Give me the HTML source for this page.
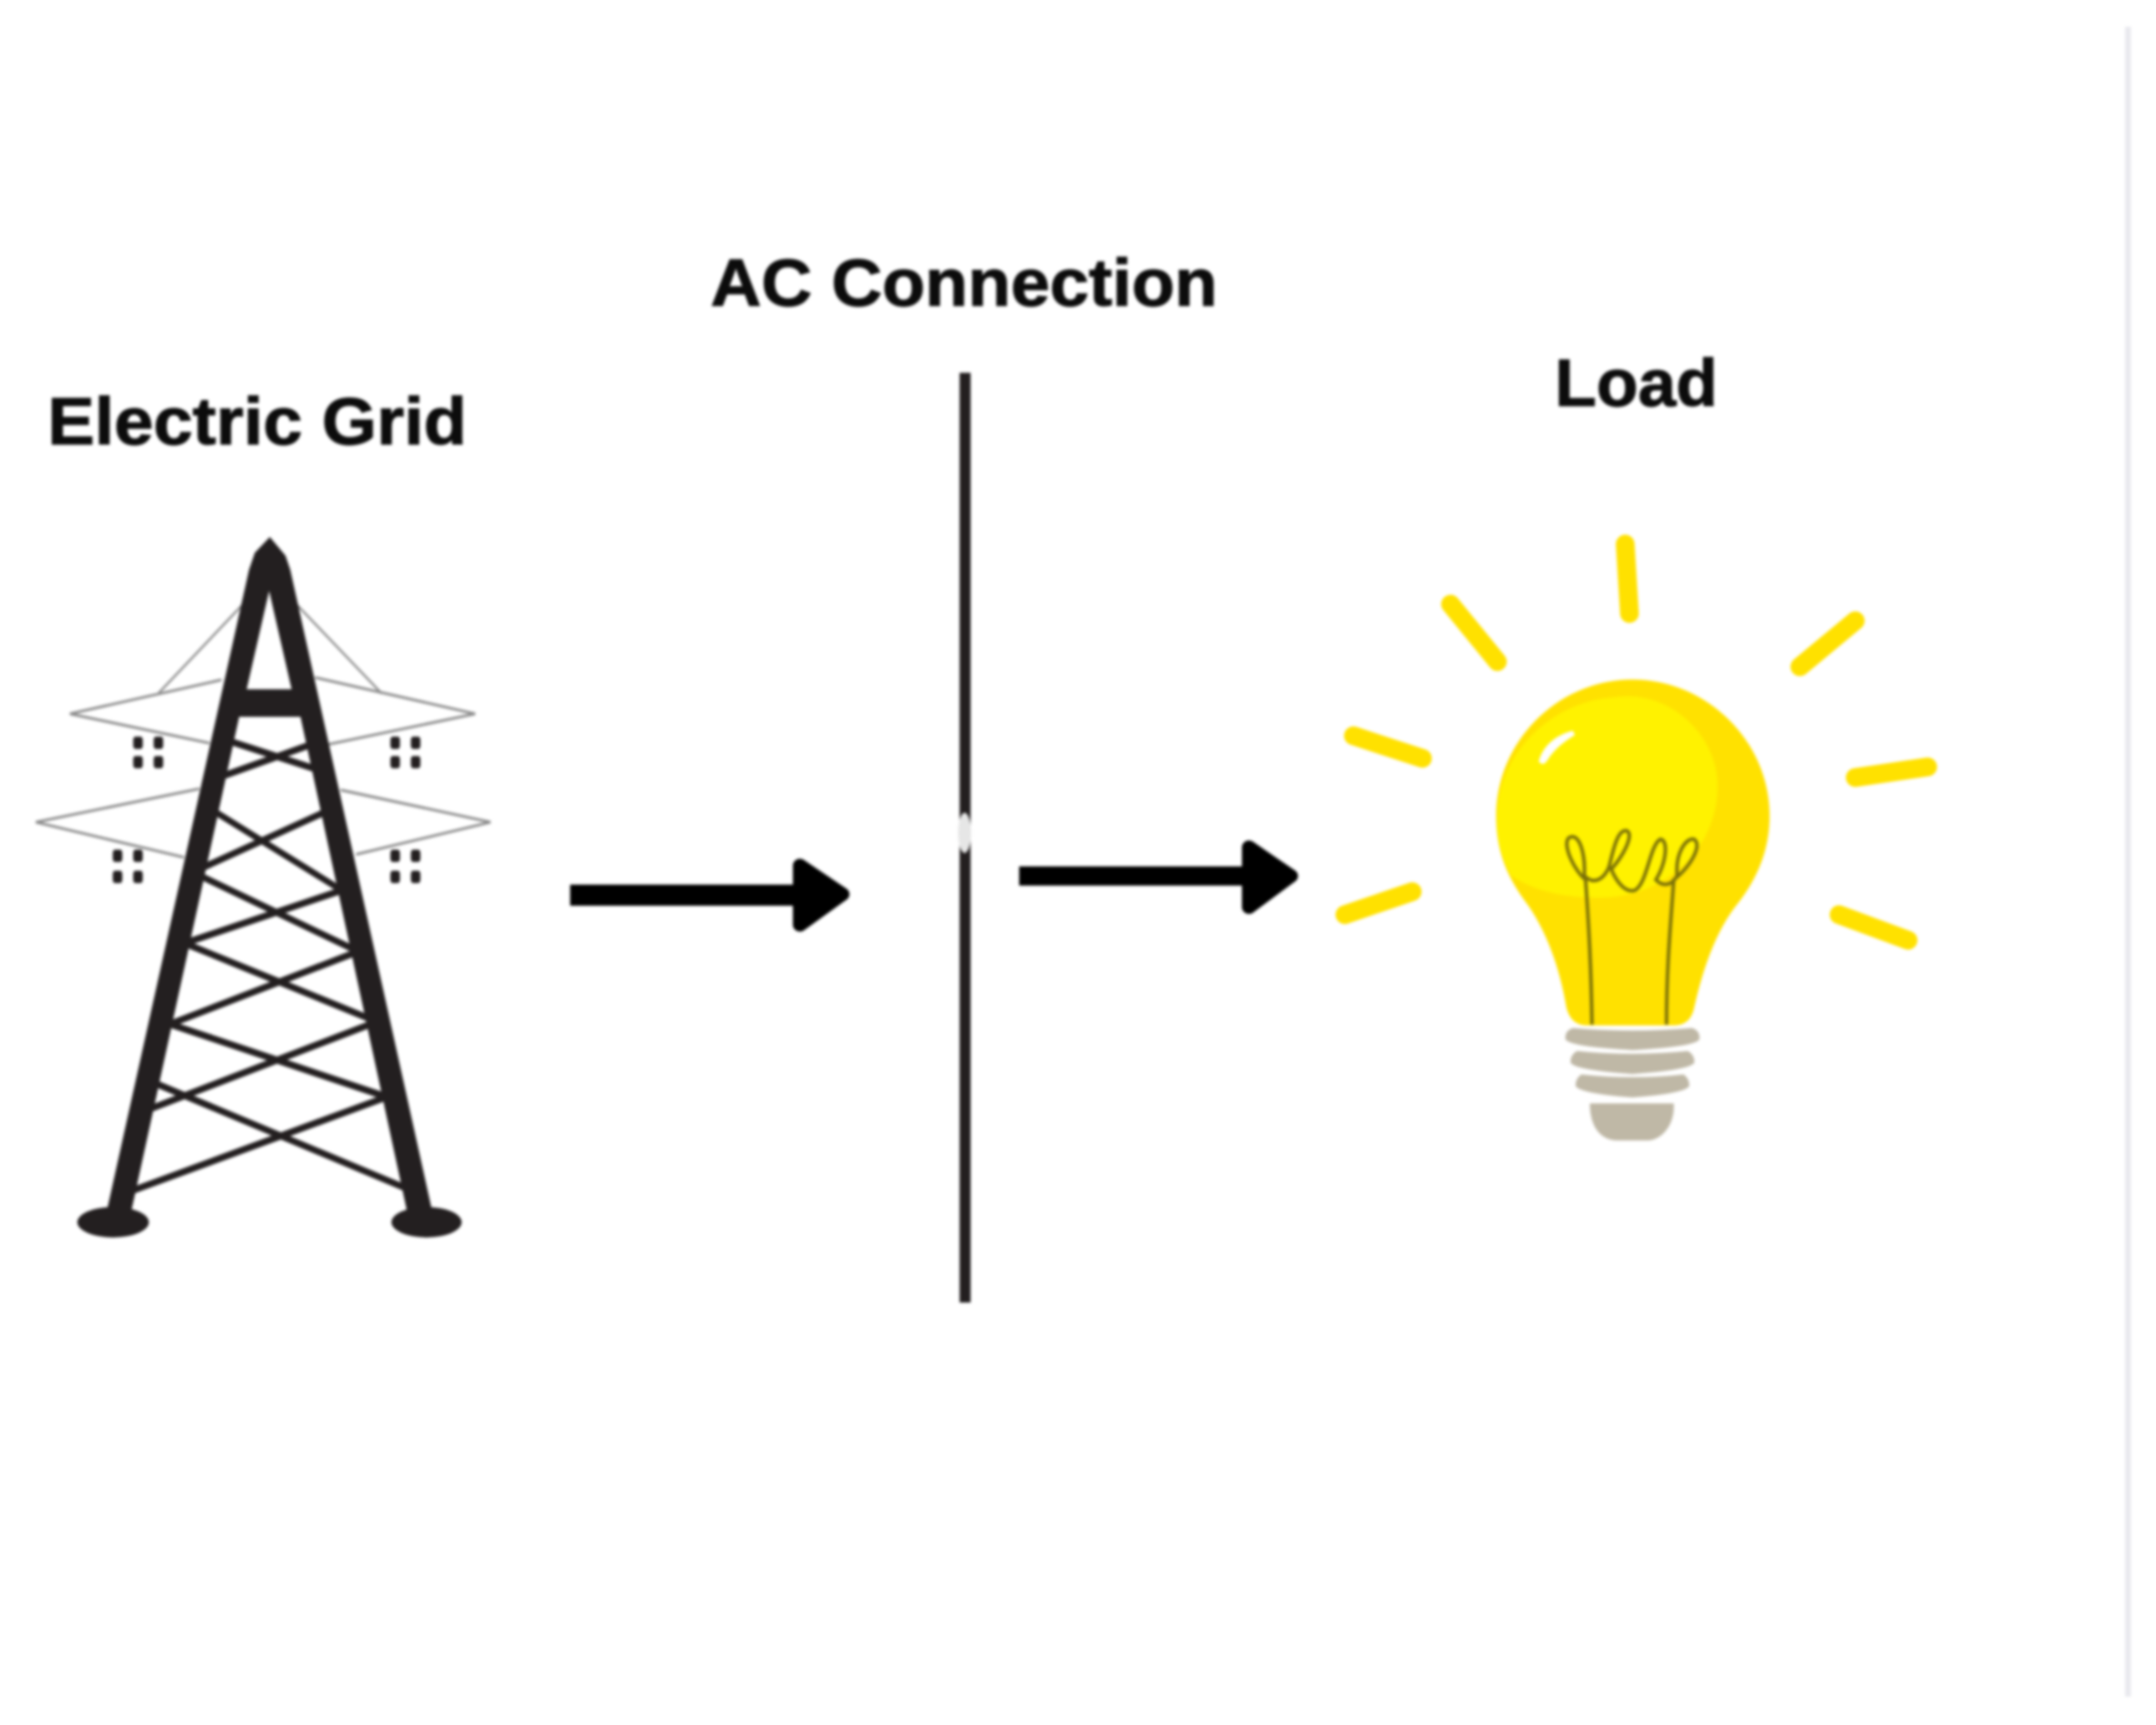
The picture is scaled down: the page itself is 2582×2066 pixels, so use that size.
<!DOCTYPE html>
<html>
<head>
<meta charset="utf-8">
<style>
html,body{margin:0;padding:0;background:#fff;width:2582px;height:2066px;overflow:hidden}
svg{display:block;filter:blur(1.9px)}
text{font-family:"Liberation Sans",sans-serif;font-weight:700;fill:#0c0c0c;font-size:80px;stroke:#0c0c0c;stroke-width:1.2px}
</style>
</head>
<body>
<svg width="2582" height="2066" viewBox="0 0 2582 2066" xmlns="http://www.w3.org/2000/svg">
<rect width="2582" height="2066" fill="#fff"/>
<rect x="2545" y="32" width="7" height="2000" fill="#e9e9ee"/>

<text x="57" y="532" textLength="502" lengthAdjust="spacingAndGlyphs">Electric Grid</text>
<text x="851" y="366" textLength="607" lengthAdjust="spacingAndGlyphs">AC Connection</text>
<text x="1862" y="486" textLength="195" lengthAdjust="spacingAndGlyphs">Load</text>

<!-- Tower -->
<g transform="translate(0,420) scale(0.408,0.7015)">
  <g fill="none" stroke="#8a8a8a" stroke-width="4.5">
    <path d="M650 562 L205 620 L615 670"/>
    <path d="M925 558 L1395 620 L965 672"/>
    <path d="M585 748 L105 805 L540 865"/>
    <path d="M1000 750 L1440 805 L1045 860"/>
    <path d="M465 585 L710 435"/>
    <path d="M1120 585 L865 430"/>
  </g>
  <g stroke="#231f20" stroke-width="12" fill="none">
    <path d="M665 665 L925 714 M915 672 L645 728"/>
    <path d="M625 785 L1005 922 M960 786 L590 884"/>
    <path d="M582 895 L1045 1024 M1010 920 L540 1012"/>
    <path d="M535 1010 L1095 1143 M1050 1026 L485 1153"/>
    <path d="M490 1148 L1150 1277 M1105 1146 L425 1298"/>
    <path d="M440 1247 L1200 1432 M1145 1272 L375 1437"/>
  </g>
  <path fill="#231f20" fill-rule="evenodd" d="M792 318 L838 350 L852 374 L1272 1478 L1198 1478 L882 625 L702 625 L382 1478 L310 1478 L731 374 L748 345 Z M790 410 L724 578 L856 578 Z"/>
  <ellipse cx="332" cy="1488" rx="105" ry="26" fill="#231f20"/>
  <ellipse cx="1252" cy="1488" rx="103" ry="26" fill="#231f20"/>
  <g fill="#231f20">
    <rect x="391" y="659" width="28" height="21" rx="6"/><rect x="451" y="659" width="28" height="21" rx="6"/>
    <rect x="391" y="692" width="28" height="21" rx="6"/><rect x="451" y="692" width="28" height="21" rx="6"/>
    <rect x="1146" y="659" width="28" height="21" rx="6"/><rect x="1206" y="659" width="28" height="21" rx="6"/>
    <rect x="1146" y="692" width="28" height="21" rx="6"/><rect x="1206" y="692" width="28" height="21" rx="6"/>
    <rect x="331" y="852" width="28" height="21" rx="6"/><rect x="391" y="852" width="28" height="21" rx="6"/>
    <rect x="331" y="888" width="28" height="21" rx="6"/><rect x="391" y="888" width="28" height="21" rx="6"/>
    <rect x="1146" y="852" width="28" height="21" rx="6"/><rect x="1206" y="852" width="28" height="21" rx="6"/>
    <rect x="1146" y="888" width="28" height="21" rx="6"/><rect x="1206" y="888" width="28" height="21" rx="6"/>
  </g>
</g>

<!-- Arrows and vertical line -->
<g transform="translate(660,280) scale(0.5995,0.574)">
  <rect x="816" y="290" width="22" height="1940" fill="#231f20"/>
  <ellipse cx="826" cy="1250" rx="13" ry="42" fill="#e6e6e6"/>
  <rect x="38" y="1358" width="460" height="44" fill="#000"/>
  <path d="M497 1318 L582 1378 L497 1442 Z" fill="#000" stroke="#000" stroke-width="28" stroke-linejoin="round"/>
  <rect x="935" y="1320" width="460" height="40" fill="#000"/>
  <path d="M1394 1280 L1478 1340 L1394 1405 Z" fill="#000" stroke="#000" stroke-width="28" stroke-linejoin="round"/>
</g>

<!-- Bulb -->
<g transform="translate(1580,620) scale(0.5102)">
  <g stroke="#ffe100" stroke-width="44" stroke-linecap="round" fill="none">
    <path d="M718 62 L728 225"/>
    <path d="M308 203 L418 338"/>
    <path d="M80 512 L242 565"/>
    <path d="M60 932 L218 878"/>
    <path d="M1258 242 L1128 350"/>
    <path d="M1258 610 L1428 585"/>
    <path d="M1220 932 L1382 992"/>
  </g>
  <path fill="#ffe100" d="M735 380 C910 380 1057 525 1057 700 C1057 790 1020 860 975 915 C930 975 900 1060 880 1150 Q872 1190 835 1192 L625 1192 Q590 1190 580 1150 C565 1060 535 975 490 910 C445 850 415 790 415 700 C415 525 560 380 735 380 Z"/>
  <path fill="#fff200" d="M690 422 C820 400 935 510 935 630 C935 770 820 890 660 892 C580 892 510 880 450 840 C425 790 415 750 418 700 C418 550 550 430 690 422 Z"/>
  <path fill="#fff" d="M595 500 C555 510 525 535 515 572 Q525 585 535 570 C550 545 575 525 600 510 Z"/>
  <path fill="none" stroke="#7a7008" stroke-width="8" d="M640 1190 C638 1050 632 950 625 850 C600 830 570 770 585 752 C610 735 625 790 622 840 C640 860 665 855 680 820 C690 780 700 730 722 735 C740 745 710 800 685 825 C700 860 720 880 740 875 C770 860 775 770 800 755 C820 755 815 810 790 850 C810 870 830 860 840 840 C835 790 860 750 880 755 C900 770 870 820 832 850 C825 950 815 1050 815 1190"/>
  <g fill="#bfb8a6">
    <path d="M595 1198 Q735 1210 875 1198 Q895 1205 892 1225 Q880 1242 735 1250 Q590 1242 578 1225 Q575 1205 595 1198 Z"/>
    <path d="M605 1252 Q735 1265 865 1252 Q882 1262 880 1280 Q868 1297 735 1306 Q602 1297 590 1280 Q588 1262 605 1252 Z"/>
    <path d="M615 1307 Q735 1320 855 1307 Q870 1318 868 1335 Q855 1352 735 1361 Q615 1352 602 1335 Q600 1318 615 1307 Z"/>
    <path d="M635 1375 L832 1375 C835 1430 800 1462 770 1462 L700 1462 C660 1462 635 1430 635 1375 Z"/>
  </g>
</g>
</svg>
</body>
</html>
